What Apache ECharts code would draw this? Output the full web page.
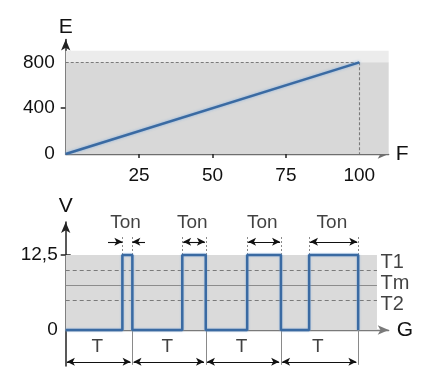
<!DOCTYPE html>
<html>
<head>
<meta charset="utf-8">
<script src="https://cdn.jsdelivr.net/npm/echarts@6/dist/echarts.min.js"></script>
<style>
html,body{margin:0;padding:0;background:#fff;}
#c{width:446px;height:379px;}
</style>
</head>
<body>
<div id="c"></div>
<script>
// ---- top chart data ----
const topF = [0, 100];
const topE = [0, 800];
const topXLabels = [25, 50, 75, 100];
const topXTicks = [25, 50, 75];
const topYLabels = [0, 400, 800];
const topYTicks = [400];
const topMaxF = 100;
const topMaxE = 800;

// ---- bottom chart data ----
const periodBounds = [0, 22.7, 47.7, 73.3, 99.6];
const pulseRise = [19.3, 39.7, 61.8, 82.9];
const vHigh = 12.5;
const levelValues = [10, 7.5, 5];
const levelNames = ['T1', 'Tm', 'T2'];
const levelLabelY = [11.3, 7.8, 4.2];
const bottomYLabels = [0, 12.5];

// layout constants
const FONT = 'Liberation Sans, Arial, sans-serif';
const TXT = '#111';
const bandEndX = 106;
const tonTopY = 15.6, tonArrowY = 14.7, tonLabelY = 17.8;
const tLabelY = -2.8, tArrowY = -5.3, boundBottomY = -5.8;
const levelLabelX = 107.2;
const firstTonOuter = [14.4, 27.0];

// pulse trace
const pulse = [[periodBounds[0], 0]];
for (let i = 0; i < pulseRise.length; i++) {
  const r = pulseRise[i], f = periodBounds[i + 1];
  pulse.push([r, 0], [r, vHigh], [f, vHigh], [f, 0]);
}

const thin = { color: '#8a8a8a', width: 1, type: 'solid' };
const arrowStyle = { color: '#111', width: 1.1, type: 'solid' };
const seg = (a, b, s1, s2, style) => [
  { coord: a, symbol: s1, lineStyle: style },
  { coord: b, symbol: s2, lineStyle: style }
];

const bottomMarks = [];
levelValues.forEach((v, i) => {
  bottomMarks.push(seg([0, v], [bandEndX, v], 'none', 'none',
    { color: i === 1 ? '#8c8c8c' : '#7a7a7a', width: 1, type: i === 1 ? 'solid' : [4, 3] }));
});
periodBounds.slice(1).forEach(b => {
  bottomMarks.push(seg([b, 0], [b, boundBottomY], 'none', 'none', thin));
});
for (let i = 0; i < periodBounds.length - 1; i++) {
  bottomMarks.push(seg([periodBounds[i] + 0.4, tArrowY], [periodBounds[i + 1] - 0.6, tArrowY], 'arrow', 'arrow', arrowStyle));
}
pulseRise.forEach((r, i) => {
  const f = periodBounds[i + 1];
  const dot = { color: '#8a8a8a', width: 1, type: [2, 2] };
  bottomMarks.push(seg([r, vHigh], [r, tonTopY], 'none', 'none', dot));
  bottomMarks.push(seg([f, vHigh], [f, tonTopY], 'none', 'none', dot));
  if (i === 0) {
    bottomMarks.push(seg([firstTonOuter[0], tonArrowY], [r, tonArrowY], 'none', 'arrow', arrowStyle));
    bottomMarks.push(seg([firstTonOuter[1], tonArrowY], [f, tonArrowY], 'none', 'arrow', arrowStyle));
  } else {
    bottomMarks.push(seg([r + 0.3, tonArrowY], [f - 0.3, tonArrowY], 'arrow', 'arrow', arrowStyle));
  }
});

const textLabels = [];
pulseRise.forEach((r, i) => {
  textLabels.push({ value: [(r + periodBounds[i + 1]) / 2 - 0.6, tonLabelY], name: 'Ton' });
});
for (let i = 0; i < periodBounds.length - 1; i++) {
  textLabels.push({ value: [(periodBounds[i] + periodBounds[i + 1]) / 2 - 0.6, tLabelY], name: 'T' });
}
const levelLabels = levelNames.map((n, i) => ({ value: [levelLabelX, levelLabelY[i]], name: n }));

const gridL = 65.7, gridW = 323;
const labelStyle = { fontSize: 19, color: TXT, fontFamily: FONT };

const chart = echarts.init(document.getElementById('c'), null, { renderer: 'canvas' });
chart.setOption({
  animation: false,
  backgroundColor: '#fff',
  grid: [
    { left: gridL, top: 39.4, width: gridW, height: 114.6 },
    { left: gridL, top: 222, width: gridW, height: 144 }
  ],
  xAxis: [
    {
      gridIndex: 0, type: 'value', min: 0, max: 110,
      axisLine: { show: true, symbol: ['none', 'arrow'], symbolSize: [7, 11], lineStyle: { color: '#6e6e6e', width: 1.3 } },
      axisTick: { show: true, customValues: topXTicks, length: 4, lineStyle: { color: '#222', width: 1.5 } },
      axisLabel: Object.assign({ customValues: topXLabels, margin: 12 }, labelStyle),
      splitLine: { show: false },
      name: 'F', nameLocation: 'end', nameGap: 7,
      nameTextStyle: { fontSize: 21, color: TXT, fontFamily: FONT, verticalAlign: 'middle' }
    },
    {
      gridIndex: 0, type: 'value', min: 0, max: 110, position: 'bottom',
      axisLine: { show: false },
      axisTick: { show: true, inside: true, customValues: topXTicks, length: 4, lineStyle: { color: '#222', width: 1.5 } },
      axisLabel: { show: false }, splitLine: { show: false }
    },
    {
      gridIndex: 1, type: 'value', min: 0, max: 110,
      axisLine: { show: true, onZero: true, symbol: ['none', 'arrow'], symbolSize: [7, 11], lineStyle: { color: '#7a7a7a', width: 1.3 } },
      axisTick: { show: false }, axisLabel: { show: false }, splitLine: { show: false },
      name: 'G', nameLocation: 'end', nameGap: 8,
      nameTextStyle: { fontSize: 21, color: TXT, fontFamily: FONT, verticalAlign: 'middle' }
    }
  ],
  yAxis: [
    {
      gridIndex: 0, type: 'value', min: 0, max: 1000,
      axisLine: { show: true, symbol: ['none', 'arrow'], symbolSize: [7, 11], lineStyle: { color: '#222', width: 1.5 } },
      axisTick: { show: true, customValues: topYTicks, length: 5, lineStyle: { color: '#222', width: 1.5 } },
      axisLabel: Object.assign({ customValues: topYLabels, margin: 11 }, labelStyle),
      splitLine: { show: false },
      name: 'E', nameLocation: 'end', nameGap: 2,
      nameTextStyle: { fontSize: 21, color: TXT, fontFamily: FONT, align: 'center' }
    },
    {
      gridIndex: 0, type: 'value', min: 0, max: 1000, position: 'left',
      axisLine: { show: false },
      axisTick: { show: true, inside: true, customValues: topYTicks, length: 5, lineStyle: { color: '#222', width: 1.5 } },
      axisLabel: { show: false }, splitLine: { show: false }
    },
    {
      gridIndex: 1, type: 'value', min: -6, max: 18,
      axisLine: { show: true, onZero: false, symbol: ['none', 'arrow'], symbolSize: [7, 11], lineStyle: { color: '#222', width: 1.5 } },
      axisTick: { show: true, customValues: [vHigh], length: 5, lineStyle: { color: '#222', width: 1.5 } },
      axisLabel: Object.assign({ customValues: bottomYLabels, margin: 8,
        formatter: v => String(v).replace('.', ',') }, labelStyle),
      splitLine: { show: false },
      name: 'V', nameLocation: 'end', nameGap: 5,
      nameTextStyle: { fontSize: 21, color: TXT, fontFamily: FONT, align: 'center' }
    },
    {
      gridIndex: 1, type: 'value', min: -6, max: 18, position: 'left',
      axisLine: { show: false, onZero: false },
      axisTick: { show: true, inside: true, customValues: [vHigh], length: 5, lineStyle: { color: '#222', width: 1.5 } },
      axisLabel: { show: false }, splitLine: { show: false }
    }
  ],
  series: [
    {
      type: 'line', xAxisIndex: 0, yAxisIndex: 0,
      data: topF.map((f, i) => [f, topE[i]]),
      showSymbol: false, symbol: 'none',
      lineStyle: { color: '#3a6aa2', width: 2.5, shadowColor: 'rgba(120,170,225,0.8)', shadowBlur: 3 },
      z: 5,
      markArea: {
        silent: true,
        data: [
          [{ coord: [0, topMaxE], itemStyle: { color: '#ececec' } }, { coord: [111.4, 900] }],
          [{ coord: [0, 0], itemStyle: { color: '#d8d8d8' } }, { coord: [111.4, topMaxE] }]
        ]
      },
      markLine: {
        silent: true, symbol: 'none', label: { show: false },
        lineStyle: { color: '#7a7a7a', width: 1.1, type: [3, 2] },
        data: [
          [{ coord: [0, topMaxE] }, { coord: [topMaxF, topMaxE] }],
          [{ coord: [topMaxF, topMaxE] }, { coord: [topMaxF, 0] }]
        ]
      }
    },
    {
      type: 'line', xAxisIndex: 2, yAxisIndex: 2,
      data: pulse, showSymbol: false, symbol: 'none',
      lineStyle: { color: '#3a6aa2', width: 2.5, shadowColor: 'rgba(120,170,225,0.7)', shadowBlur: 2 },
      z: 5,
      markArea: {
        silent: true,
        data: [[{ coord: [0, 0], itemStyle: { color: '#dadada' } }, { coord: [bandEndX, vHigh] }]]
      },
      markLine: {
        silent: true, symbol: 'none', symbolSize: [6, 8], label: { show: false },
        data: bottomMarks
      }
    },
    {
      type: 'scatter', xAxisIndex: 2, yAxisIndex: 2, symbolSize: 0, silent: true,
      data: textLabels,
      label: { show: true, position: 'inside', formatter: p => p.name, fontSize: 19, color: TXT, fontFamily: FONT }
    },
    {
      type: 'scatter', xAxisIndex: 2, yAxisIndex: 2, symbolSize: 0, silent: true,
      data: levelLabels,
      label: { show: true, position: 'inside', align: 'left', formatter: p => p.name, fontSize: 20, color: TXT, fontFamily: FONT }
    }
  ]
});
</script>
</body>
</html>
